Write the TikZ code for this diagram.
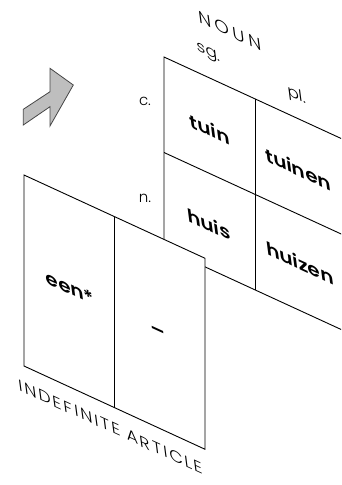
\documentclass[tikz,border=0pt]{standalone}
\usepackage{fontspec}
\setmainfont{Poppins}
\newfontfamily\thinfont{Poppins Light}
\newfontfamily\cellfont{Poppins SemiBold}
\usetikzlibrary{positioning}
\definecolor{arrowgray}{RGB}{190, 190, 190}
\definecolor{arrowedge}{RGB}{70, 70, 70}
\tikzset{
	panel/.style={draw=black, line width=0.9pt, fill=white},
	divider/.style={draw=black, line width=0.9pt},
	plane/.style={cm={1,-0.46,-0.12,0.92,(0,0)}},
	word/.style={plane, inner sep=0pt, font=\cellfont\fontsize{20}{20}\selectfont},
	caption/.style={plane, inner sep=0pt, font=\thinfont\fontsize{17}{17}\selectfont},
	sidelabel/.style={inner sep=0pt, font=\thinfont\fontsize{15}{15}\selectfont},
}

\begin{document}
\begin{tikzpicture}[x=1pt, y=-1pt]
	\useasboundingbox (0,0) rectangle (341,485);
	\clip (0,0) rectangle (341,485);
	% arrow
	\draw[fill=arrowgray, draw=arrowedge, line width=0.8pt, line join=miter] (23.3,125) -- (23.3,109.3) -- (50,91.7) -- (50,68.3) -- (73.3,85) -- (50,126) -- (50,106.7) -- cycle;
	% noun panel
	\draw[panel] (164,57) -- ++(182,83.72) -- ++(0,191) -- ++(-182,-83.72) -- cycle;
	\draw[divider] (255,98.86) -- ++(0,191);
	\draw[divider] (164,152.5) -- ++(182,83.72);
	\node[caption, font=\thinfont\fontsize{18.5}{18.5}\selectfont\addfontfeatures{LetterSpace=20}] (noun) at (230,31) {NOUN};
	\node[caption] (sg) at (209,54) {sg.};
	\node[caption] (pl) at (297,96) {pl.};
	\node[sidelabel] (common) at (145,101) {c.};
	\node[sidelabel] (neuter) at (145,198) {n.};
	\node[word] (tuin) at (209.5,129) {tuin};
	\node[word] (tuinen) at (298,169) {tuinen};
	\node[word] (huis) at (209,224) {huis};
	\node[word] (huizen) at (300,263) {huizen};
	% article panel
	\draw[panel] (24,175) -- ++(181,83.26) -- ++(0,191) -- ++(-181,-83.26) -- cycle;
	\draw[divider] (114.5,216.6) -- ++(0,191);
	\node[word] (een) at (70,288) {een*};
	\node[word, font=\cellfont\fontsize{21}{21}\selectfont] (none) at (158,333) {–};
	\node[caption, font=\thinfont\fontsize{17.5}{17.5}\selectfont\addfontfeatures{LetterSpace=11}] (indef) at (111,427) {INDEFINITE ARTICLE};
\end{tikzpicture}
\end{document}
